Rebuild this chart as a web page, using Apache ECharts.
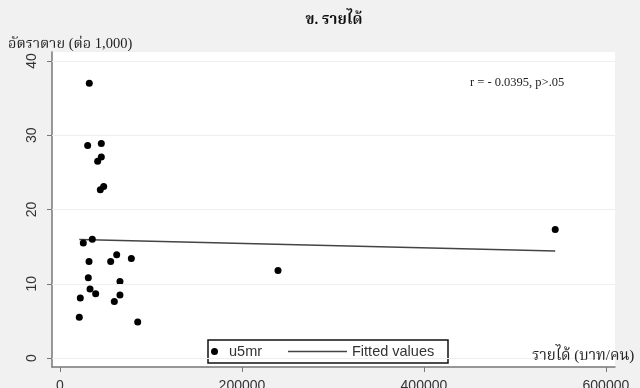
<!DOCTYPE html>
<html>
<head>
<meta charset="utf-8">
<script src="https://cdn.jsdelivr.net/npm/echarts@6/dist/echarts.min.js"></script>
<style>
  html, body { margin: 0; padding: 0; background: #f1f1f1; }
  #chart { width: 640px; height: 388px; }
</style>
</head>
<body>
<div id="chart"></div>
<script>
// Income per person (baht) against under-five mortality per 1,000
const income = [32200, 30400, 45400, 41400, 45400, 44300, 48000, 25600, 35500, 31900, 55700, 62300,
                78400, 31100, 65900, 33000, 39200, 65900, 59700, 22300, 21200, 85400, 239600, 544300];
const u5mr = [37.0, 28.6, 28.9, 26.5, 27.05, 22.65, 23.1, 15.5, 16.0, 13.0, 13.0, 13.9,
              13.4, 10.8, 10.3, 9.3, 8.65, 8.5, 7.6, 8.1, 5.5, 4.85, 11.8, 17.3];
// Fitted regression line, endpoints at the lowest and highest income
const fitIncome = [21200, 544300];
const fitValue = [15.95, 14.4];

const xTicks = [0, 200000, 400000, 600000];
const yTicks = [0, 10, 20, 30, 40];

const titleText = 'ข. รายได้';
const yTitle = 'อัตราตาย (ต่อ 1,000)';
const xTitle = 'รายได้ (บาท/คน)';
const statText = 'r = - 0.0395, p>.05';

const serif = '"Liberation Serif", "Noto Serif Thai", "Noto Sans Thai", serif';
const sans = '"Liberation Sans", Arial, sans-serif';

const chart = echarts.init(document.getElementById('chart'), null, { renderer: 'canvas' });

const scatterData = income.map((v, i) => [v, u5mr[i]]);
const fitData = fitIncome.map((v, i) => [v, fitValue[i]]);

chart.setOption({
  animation: false,
  backgroundColor: '#f1f1f1',
  title: [
    { text: titleText, left: 329, textAlign: 'center', top: 8,
      textStyle: { fontFamily: serif, fontSize: 15, fontWeight: 'bold', color: '#111' } },
    { text: yTitle, left: 3, top: 32,
      textStyle: { fontFamily: serif, fontSize: 14.5, fontWeight: 'normal', color: '#222' } }
  ],
  grid: { left: 52, right: 25, top: 52, bottom: 21, show: true, backgroundColor: '#ffffff', borderWidth: 0,
          containLabel: false, outerBoundsMode: 'none' },
  xAxis: {
    type: 'value', min: -8800, max: 610000,
    axisLine: { show: true, onZero: false, lineStyle: { color: '#777', width: 1.5 } },
    axisTick: { show: true, customValues: xTicks, length: 5, lineStyle: { color: '#777' } },
    axisLabel: { customValues: xTicks, margin: 12, fontFamily: sans, fontSize: 14, color: '#333',
                 formatter: v => String(v) },
    splitLine: { show: false }
  },
  yAxis: {
    type: 'value', min: -1.2, max: 41.2,
    axisLine: { show: true, onZero: false, lineStyle: { color: '#777', width: 1.5 } },
    axisTick: { show: true, customValues: yTicks, length: 5, lineStyle: { color: '#777' } },
    axisLabel: { customValues: yTicks, rotate: 90, margin: 13, fontFamily: sans, fontSize: 14, color: '#333' },
    splitLine: { show: false }
  },
  legend: [
    { data: ['u5mr'], left: 211, top: 344, z: 10, itemWidth: 7, itemHeight: 7, itemGap: 0,
      textStyle: { fontFamily: sans, fontSize: 14.5, color: '#333', padding: [0, 0, 0, 6] }, padding: 0 },
    { data: [{ name: 'Fitted values', icon: 'rect' }], left: 288, top: 344, z: 10, itemWidth: 59, itemHeight: 1.5,
      textStyle: { fontFamily: sans, fontSize: 14.5, color: '#333' }, padding: 0 }
  ],
  graphic: [
    { type: 'rect', z: 1, shape: { x: 208, y: 340, width: 240, height: 23 },
      style: { fill: '#ffffff', stroke: '#111', lineWidth: 1.5 } },
    { type: 'text', z: 6, left: 470, top: 76,
      style: { text: statText, font: '12.5px ' + serif, fill: '#222' } },
    { type: 'text', z: 6, left: 532, top: 349,
      style: { text: xTitle, font: '15px ' + serif, fill: '#222' } }
  ],
  series: [
    {
      name: 'gridlines', type: 'line', data: [], silent: true,
      markLine: {
        silent: true, symbol: 'none', label: { show: false },
        lineStyle: { color: '#eeeeee', width: 1, type: 'solid' },
        data: yTicks.map(v => ({ yAxis: v }))
      }
    },
    {
      name: 'u5mr', type: 'scatter', data: scatterData, symbol: 'circle', symbolSize: 7,
      itemStyle: { color: '#000', opacity: 1 }, z: 3
    },
    {
      name: 'Fitted values', type: 'line', data: fitData, symbol: 'none',
      lineStyle: { color: '#444', width: 1.5 }, itemStyle: { color: '#444' }, z: 2
    }
  ]
});
</script>
</body>
</html>
